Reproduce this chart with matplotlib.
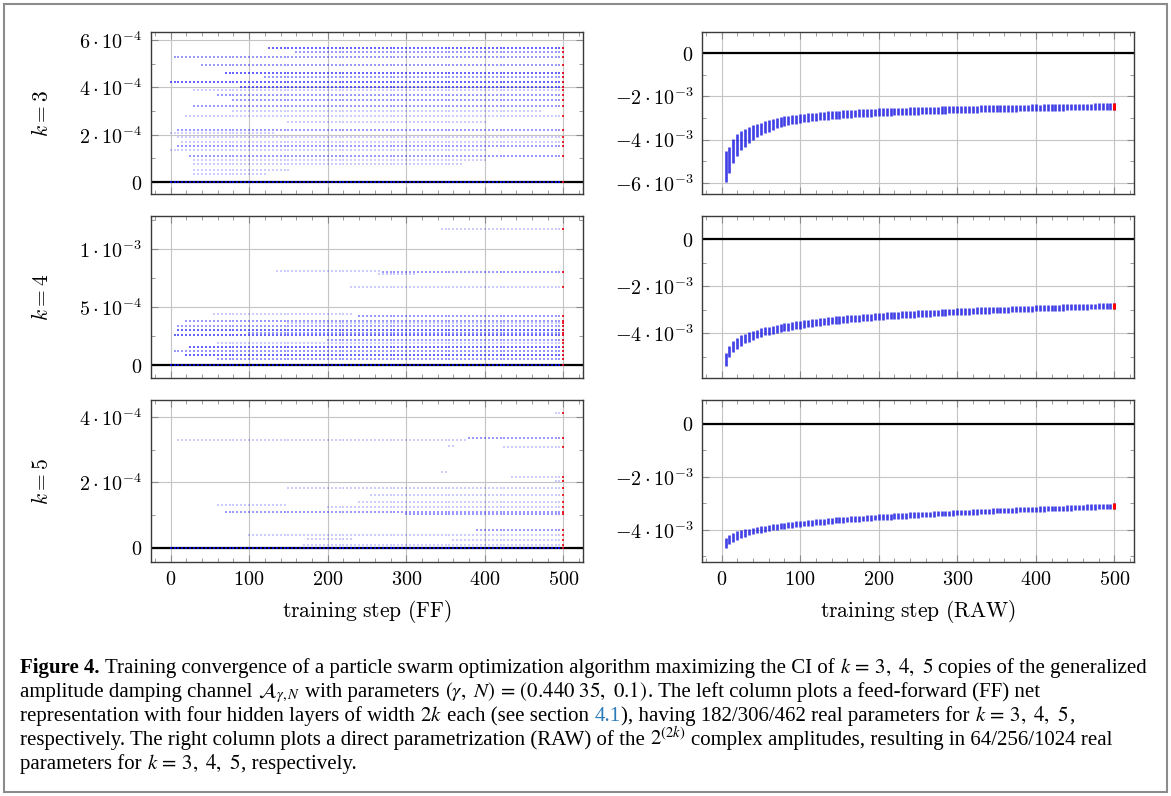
import numpy as np
import matplotlib.pyplot as plt
from matplotlib.ticker import FixedLocator, FixedFormatter, MultipleLocator
from matplotlib.patches import Rectangle

plt.rcParams['mathtext.fontset'] = 'cm'

W, H = 1171, 796

# ---------------- left column (FF): plateaus of the particles ----------------
# value in units of 1e-4, first step, last step, number of particles sitting there
ff3_val = [5.65, 5.50, 5.27, 4.94, 4.62, 4.45, 4.21, 4.00, 3.89, 3.68, 3.46, 3.21, 3.00, 2.80,
           2.55, 2.22, 2.08, 1.91, 1.70, 1.53, 1.35, 1.11, 0.93, 0.75, 0.51, 0.33, 0.0]
ff3_start = [125, 160, 8, 40, 70, 120, 0, 90, 30, 60, 80, 30, 80, 20,
             150, 10, 0, 10, 15, 10, 0, 25, 30, 30, 30, 30, 0]
ff3_end = [500, 500, 500, 500, 500, 500, 500, 500, 500, 500, 500, 500, 470, 500,
           400, 500, 130, 500, 500, 500, 400, 500, 400, 370, 150, 120, 500]
ff3_cnt = [3, 2, 2, 2, 3, 2, 3, 3, 1, 2, 2, 2, 1, 1,
           1, 2, 1, 1, 1, 2, 1, 2, 1, 1, 1, 1, 4]

ff4_val = [11.7, 8.1, 8.05, 7.8, 6.7, 4.37, 4.2, 3.82, 3.6, 3.36, 3.0, 2.8, 2.58, 2.15,
           1.9, 1.58, 1.24, 0.86, 0.49, 0.0]
ff4_start = [347, 138, 270, 265, 230, 55, 240, 20, 150, 10, 10, 100, 5, 200,
             60, 25, 5, 20, 60, 0]
ff4_end = [500, 265, 500, 310, 500, 230, 500, 500, 500, 500, 500, 500, 500, 500,
           500, 500, 500, 500, 500, 500]
ff4_cnt = [1, 1, 2, 1, 1, 1, 2, 2, 1, 2, 3, 2, 3, 2,
           1, 3, 2, 3, 2, 4]

ff5_val = [4.13, 3.30, 3.35, 3.07, 3.12, 2.33, 2.18, 2.05, 1.84, 1.62, 1.41, 1.30, 1.26,
           1.10, 1.03, 0.55, 0.40, 0.28, 0.24, 0.08, 0.0]
ff5_start = [490, 10, 380, 425, 355, 345, 435, 490, 150, 255, 240, 60, 200,
             70, 300, 390, 100, 175, 360, 170, 0]
ff5_end = [500, 375, 500, 500, 360, 350, 500, 500, 500, 500, 500, 145, 500,
           500, 500, 500, 500, 230, 500, 500, 500]
ff5_cnt = [1, 1, 2, 1, 1, 1, 1, 1, 1, 1, 1, 1, 1,
           2, 2, 2, 1, 1, 1, 1, 4]

# ---------------- right column (RAW): spread of the swarm per step ----------------
raw_steps = list(range(5, 501, 5))

# centre of the swarm, units of 1e-3
raw3_mid = [-5.24, -4.94, -4.54, -4.26, -4.05, -3.92, -3.80, -3.68, -3.59, -3.50,
            -3.43, -3.37, -3.30, -3.24, -3.19, -3.15, -3.12, -3.09, -3.06, -3.03,
            -3.00, -2.98, -2.96, -2.94, -2.92, -2.90, -2.89, -2.87, -2.86, -2.85,
            -2.83, -2.81, -2.80, -2.79, -2.78, -2.77, -2.77, -2.76, -2.75, -2.74,
            -2.73, -2.72, -2.72, -2.71, -2.70, -2.69, -2.69, -2.68, -2.68, -2.67,
            -2.66, -2.65, -2.65, -2.64, -2.64, -2.63, -2.63, -2.62, -2.61, -2.61,
            -2.60, -2.60, -2.59, -2.59, -2.59, -2.58, -2.58, -2.57, -2.57, -2.57,
            -2.56, -2.56, -2.55, -2.55, -2.55, -2.54, -2.54, -2.54, -2.53, -2.53,
            -2.53, -2.52, -2.52, -2.52, -2.51, -2.51, -2.51, -2.50, -2.50, -2.50,
            -2.50, -2.49, -2.49, -2.49, -2.48, -2.48, -2.48, -2.48, -2.47, -2.47]
raw3_half = [0.70, 0.62, 0.55, 0.50, 0.45, 0.40, 0.37, 0.34, 0.31, 0.29,
             0.27, 0.26, 0.25, 0.24, 0.23, 0.22, 0.21, 0.21, 0.20, 0.20,
             0.19, 0.19, 0.19, 0.19, 0.19, 0.19, 0.19, 0.19, 0.19, 0.19,
             0.18, 0.18, 0.18, 0.18, 0.18, 0.18, 0.18, 0.18, 0.18, 0.18,
             0.17, 0.17, 0.17, 0.17, 0.17, 0.17, 0.17, 0.17, 0.17, 0.17,
             0.17, 0.17, 0.17, 0.17, 0.17, 0.17, 0.17, 0.17, 0.17, 0.17,
             0.16, 0.16, 0.16, 0.16, 0.16, 0.16, 0.16, 0.16, 0.16, 0.16,
             0.16, 0.16, 0.16, 0.16, 0.16, 0.16, 0.16, 0.16, 0.16, 0.16,
             0.15, 0.15, 0.15, 0.15, 0.15, 0.15, 0.15, 0.15, 0.15, 0.15,
             0.15, 0.15, 0.15, 0.15, 0.15, 0.15, 0.15, 0.15, 0.15, 0.15]

raw4_mid = [-5.12, -4.78, -4.58, -4.43, -4.32, -4.23, -4.16, -4.09, -4.03, -3.98,
            -3.93, -3.89, -3.85, -3.81, -3.78, -3.75, -3.72, -3.69, -3.66, -3.64,
            -3.61, -3.59, -3.57, -3.55, -3.53, -3.51, -3.49, -3.47, -3.45, -3.44,
            -3.42, -3.40, -3.39, -3.37, -3.36, -3.35, -3.33, -3.32, -3.31, -3.29,
            -3.28, -3.27, -3.26, -3.25, -3.24, -3.22, -3.21, -3.20, -3.19, -3.18,
            -3.17, -3.16, -3.16, -3.15, -3.14, -3.13, -3.12, -3.11, -3.10, -3.09,
            -3.09, -3.08, -3.07, -3.06, -3.05, -3.05, -3.04, -3.03, -3.02, -3.02,
            -3.01, -3.00, -3.00, -2.99, -2.98, -2.98, -2.97, -2.96, -2.96, -2.95,
            -2.95, -2.94, -2.93, -2.93, -2.92, -2.92, -2.91, -2.90, -2.90, -2.89,
            -2.89, -2.88, -2.88, -2.87, -2.87, -2.86, -2.86, -2.85, -2.85, -2.84]
raw4_half = [0.26, 0.25, 0.24, 0.23, 0.22, 0.21, 0.20, 0.19, 0.18, 0.18,
             0.17, 0.17, 0.17, 0.17, 0.17, 0.17, 0.17, 0.17, 0.17, 0.17,
             0.16, 0.16, 0.16, 0.16, 0.16, 0.16, 0.16, 0.16, 0.16, 0.16,
             0.15, 0.15, 0.15, 0.15, 0.15, 0.15, 0.15, 0.15, 0.15, 0.15,
             0.15, 0.15, 0.15, 0.15, 0.15, 0.15, 0.15, 0.15, 0.15, 0.15,
             0.14, 0.14, 0.14, 0.14, 0.14, 0.14, 0.14, 0.14, 0.14, 0.14,
             0.14, 0.14, 0.14, 0.14, 0.14, 0.14, 0.14, 0.14, 0.14, 0.14,
             0.13, 0.13, 0.13, 0.13, 0.13, 0.13, 0.13, 0.13, 0.13, 0.13,
             0.13, 0.13, 0.13, 0.13, 0.13, 0.13, 0.13, 0.13, 0.13, 0.13,
             0.12, 0.12, 0.12, 0.12, 0.12, 0.12, 0.12, 0.12, 0.12, 0.12]

raw5_mid = [-4.50, -4.36, -4.28, -4.21, -4.16, -4.12, -4.08, -4.04, -4.01, -3.98,
            -3.95, -3.92, -3.90, -3.88, -3.86, -3.84, -3.82, -3.80, -3.79, -3.77,
            -3.76, -3.74, -3.73, -3.71, -3.70, -3.69, -3.67, -3.66, -3.64, -3.63,
            -3.62, -3.61, -3.60, -3.59, -3.58, -3.57, -3.56, -3.55, -3.53, -3.52,
            -3.51, -3.50, -3.50, -3.49, -3.48, -3.47, -3.46, -3.45, -3.44, -3.43,
            -3.42, -3.41, -3.41, -3.40, -3.39, -3.38, -3.37, -3.37, -3.36, -3.35,
            -3.34, -3.34, -3.33, -3.32, -3.32, -3.31, -3.30, -3.30, -3.29, -3.28,
            -3.27, -3.27, -3.26, -3.26, -3.25, -3.24, -3.24, -3.23, -3.23, -3.22,
            -3.21, -3.21, -3.20, -3.20, -3.19, -3.18, -3.18, -3.17, -3.17, -3.16,
            -3.15, -3.15, -3.14, -3.14, -3.13, -3.12, -3.12, -3.11, -3.11, -3.10]
raw5_half = [0.19, 0.18, 0.17, 0.16, 0.15, 0.14, 0.13, 0.13, 0.12, 0.12,
             0.11, 0.11, 0.11, 0.11, 0.11, 0.11, 0.11, 0.11, 0.11, 0.11,
             0.11, 0.11, 0.11, 0.11, 0.11, 0.11, 0.11, 0.11, 0.11, 0.11,
             0.11, 0.11, 0.11, 0.11, 0.11, 0.11, 0.11, 0.11, 0.11, 0.11,
             0.11, 0.11, 0.11, 0.11, 0.11, 0.11, 0.11, 0.11, 0.11, 0.11,
             0.10, 0.10, 0.10, 0.10, 0.10, 0.10, 0.10, 0.10, 0.10, 0.10,
             0.10, 0.10, 0.10, 0.10, 0.10, 0.10, 0.10, 0.10, 0.10, 0.10,
             0.10, 0.10, 0.10, 0.10, 0.10, 0.10, 0.10, 0.10, 0.10, 0.10,
             0.10, 0.10, 0.10, 0.10, 0.10, 0.10, 0.10, 0.10, 0.10, 0.10,
             0.10, 0.10, 0.10, 0.10, 0.10, 0.10, 0.10, 0.10, 0.10, 0.10]

# axis ranges / ticks (values in plotted units)
ff_ylims = [(-0.5e-4, 6.34e-4), (-1.12e-4, 1.284e-3), (-0.43e-4, 4.52e-4)]
ff_ticks = [[0, 2e-4, 4e-4, 6e-4], [0, 5e-4, 1e-3], [0, 2e-4, 4e-4]]
ff_ticklabels = [[r'$0$', r'$2\cdot10^{-4}$', r'$4\cdot10^{-4}$', r'$6\cdot10^{-4}$'],
                 [r'$0$', r'$5\cdot10^{-4}$', r'$1\cdot10^{-3}$'],
                 [r'$0$', r'$2\cdot10^{-4}$', r'$4\cdot10^{-4}$']]
ff_minor = [1e-4, 2.5e-4, 1e-4]
raw_ylims = [(-6.51e-3, 0.97e-3), (-5.91e-3, 0.98e-3), (-5.21e-3, 0.9e-3)]
raw_ticks = [[-6e-3, -4e-3, -2e-3, 0], [-4e-3, -2e-3, 0], [-4e-3, -2e-3, 0]]
raw_ticklabels = [[r'$-6\cdot10^{-3}$', r'$-4\cdot10^{-3}$', r'$-2\cdot10^{-3}$', r'$0$'],
                  [r'$-4\cdot10^{-3}$', r'$-2\cdot10^{-3}$', r'$0$'],
                  [r'$-4\cdot10^{-3}$', r'$-2\cdot10^{-3}$', r'$0$']]
k_labels = [r'$k = 3$', r'$k = 4$', r'$k = 5$']
x_ticks = [0, 100, 200, 300, 400, 500]

ff_data = [(ff3_val, ff3_start, ff3_end, ff3_cnt),
           (ff4_val, ff4_start, ff4_end, ff4_cnt),
           (ff5_val, ff5_start, ff5_end, ff5_cnt)]
raw_data = [(raw3_mid, raw3_half), (raw4_mid, raw4_half), (raw5_mid, raw5_half)]

fs = 14.5
fig = plt.figure(figsize=(W / 100, H / 100), dpi=100)

tops = [32, 216, 400]
ax_h = 162


def style(ax, row):
    ax.set_xlim(-25, 525)
    ax.xaxis.set_major_locator(FixedLocator(x_ticks))
    ax.xaxis.set_minor_locator(MultipleLocator(20))
    ax.grid(True, which='major', color='#c4c4c4', lw=0.8)
    ax.set_axisbelow(True)
    ax.tick_params(which='both', direction='in', top=True, right=True, color='#8a8a8a',
                   labelsize=fs, pad=6)
    ax.tick_params(which='major', length=5, width=0.8)
    ax.tick_params(which='minor', length=3, width=0.6)
    for sp in ax.spines.values():
        sp.set_color('#3a3a3a')
        sp.set_linewidth(1.0)
    if row < 2:
        ax.tick_params(labelbottom=False)
    else:
        ax.set_xticklabels([r'$%d$' % t for t in x_ticks])


for row in range(3):
    bottom = 1 - (tops[row] + ax_h) / H
    axl = fig.add_axes([151 / W, bottom, 432 / W, ax_h / H])
    axr = fig.add_axes([702 / W, bottom, 432 / W, ax_h / H])

    # FF column
    vals, starts, ends, cnts = ff_data[row]
    axl.axhline(0, color='black', lw=1.6, zorder=1.5)
    for v, a, b, c in zip(vals, starts, ends, cnts):
        xs = np.arange(a - a % 5, b + 1, 5)
        axl.scatter(xs, np.full(len(xs), v * 1e-4), s=1.6, marker='s', color='blue',
                    alpha=min(0.85, 0.2 * c), linewidths=0, zorder=2)
        if b == 500:
            axl.scatter([500], [v * 1e-4], s=3, marker='s', color='red', alpha=0.8,
                        linewidths=0, zorder=3)
    axl.set_ylim(*ff_ylims[row])
    style(axl, row)
    axl.yaxis.set_major_locator(FixedLocator(ff_ticks[row]))
    axl.yaxis.set_major_formatter(FixedFormatter(ff_ticklabels[row]))
    axl.yaxis.set_minor_locator(MultipleLocator(ff_minor[row]))
    axl.set_ylabel(k_labels[row], fontsize=fs + 1)
    axl.yaxis.set_label_coords(-0.23, 0.5)

    # RAW column: one bar per sampled step, spanning the swarm
    mid, half = raw_data[row]
    mid = np.array(mid) * 1e-3
    half = np.array(half) * 1e-3
    axr.axhline(0, color='black', lw=1.6, zorder=1.5)
    axr.vlines(raw_steps, mid - half, mid + half, colors='#1010e0', lw=1.9, alpha=0.8, zorder=2)
    axr.vlines([500], [mid[-1] - half[-1]], [mid[-1] + half[-1]], colors='red', lw=2.2, zorder=3)
    axr.set_ylim(*raw_ylims[row])
    style(axr, row)
    axr.yaxis.set_major_locator(FixedLocator(raw_ticks[row]))
    axr.yaxis.set_major_formatter(FixedFormatter(raw_ticklabels[row]))
    axr.yaxis.set_minor_locator(MultipleLocator(1e-3))

    if row == 2:
        axl.set_xlabel(r'$\mathrm{training\ step\ (FF)}$', fontsize=fs + 1, labelpad=6)
        axr.set_xlabel(r'$\mathrm{training\ step\ (RAW)}$', fontsize=fs + 1, labelpad=6)

# frame round the figure
fig.patches.append(Rectangle((4 / W, 4 / H), 1 - 8 / W, 1 - 8 / H, transform=fig.transFigure,
                             fill=False, ec='#8c8c8c', lw=1.5))

# caption
cap_fs = 15.0
renderer = fig.canvas.get_renderer()


def text_width(s):
    t = fig.text(0, 0, s, fontsize=cap_fs, family='Liberation Serif')
    w = t.get_window_extent(renderer).width
    t.remove()
    return w


space = text_width('x x') - text_width('xx')

caption = [
    [('Figure 4.', 'b', 1),
     ('Training convergence of a particle swarm optimization algorithm maximizing the CI of', '', 1),
     (r'$k\,=\,3,\ 4,\ 5$', '', 1), ('copies of the generalized', '', 0)],
    [('amplitude damping channel', '', 1), (r'$\mathcal{A}_{\gamma,N}$', '', 1),
     ('with parameters', '', 1), (r'$(\gamma,\ N)\,=\,(0.440\ 35,\ 0.1)$', '', 0),
     ('. The left column plots a feed-forward (FF) net', '', 0)],
    [('representation with four hidden layers of width', '', 1), (r'$2k$', '', 1),
     ('each (see section', '', 1), ('4.1', 'l', 0),
     ('), having 182/306/462 real parameters for', '', 1), (r'$k\,=\,3,\ 4,\ 5$', '', 0), (',', '', 0)],
    [('respectively. The right column plots a direct parametrization (RAW) of the', '', 1),
     (r'$2^{(2k)}$', '', 1), ('complex amplitudes, resulting in 64/256/1024 real', '', 0)],
    [('parameters for', '', 1), (r'$k\,=\,3,\ 4,\ 5$', '', 0), (', respectively.', '', 0)],
]
baselines = [673, 697, 721, 745, 769]

for y, pieces in zip(baselines, caption):
    x = 20.0
    for s, kind, gap in pieces:
        kw = dict(fontsize=cap_fs, family='Liberation Serif', math_fontfamily='stix',
                  ha='left', va='baseline')
        if kind == 'b':
            kw['weight'] = 'bold'
        if kind == 'l':
            kw['color'] = '#2b7bb9'
        t = fig.text(x / W, 1 - y / H, s, **kw)
        x = t.get_window_extent(renderer).x1 + (space if gap else 0.5)

fig.savefig('out.png', dpi=100)
